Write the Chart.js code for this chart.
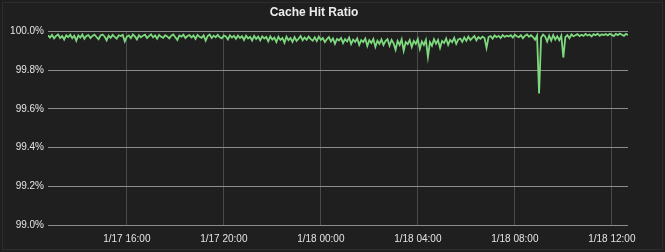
<!DOCTYPE html>
<html>
<head>
<meta charset="utf-8">
<script src="https://cdn.jsdelivr.net/npm/chart.js@4/dist/chart.umd.min.js"></script>
<style>
  html, body { margin: 0; padding: 0; background: #1f1f1f; }
  #wrap { width: 665px; height: 252px; }
</style>
</head>
<body>
<div id="wrap"><canvas id="myChart"></canvas></div>
<script>

// sampling: every 5 minutes, starting 1/17 12:45 (hours counted from 1/17 00:00)
var startHour = 12.75;
var stepMinutes = 5;

// cache hit ratio (%), one row per hour
var hitRatio = [
  99.980, 99.968, 99.982, 99.964, 99.977, 99.984, 99.966, 99.976, 99.958, 99.980, 99.970, 99.983,
  99.965, 99.978, 99.952, 99.979, 99.968, 99.984, 99.962, 99.976, 99.981, 99.966, 99.977, 99.983,
  99.971, 99.960, 99.979, 99.984, 99.974, 99.954, 99.978, 99.967, 99.982, 99.972, 99.963, 99.980,
  99.976, 99.982, 99.948, 99.972, 99.979, 99.965, 99.984, 99.974, 99.958, 99.980, 99.970, 99.978,
  99.983, 99.966, 99.976, 99.985, 99.969, 99.979, 99.962, 99.982, 99.972, 99.967, 99.980, 99.974,
  99.964, 99.978, 99.984, 99.970, 99.956, 99.979, 99.973, 99.983, 99.966, 99.976, 99.981, 99.969,
  99.979, 99.961, 99.982, 99.972, 99.967, 99.980, 99.952, 99.976, 99.984, 99.966, 99.978, 99.970,
  99.982, 99.969, 99.964, 99.979, 99.974, 99.958, 99.980, 99.968, 99.977, 99.962, 99.979, 99.966,
  99.975, 99.956, 99.978, 99.964, 99.972, 99.953, 99.977, 99.961, 99.973, 99.954, 99.975, 99.963,
  99.971, 99.949, 99.974, 99.958, 99.968, 99.945, 99.972, 99.956, 99.966, 99.942, 99.973, 99.954,
  99.966, 99.946, 99.971, 99.951, 99.962, 99.976, 99.954, 99.969, 99.957, 99.973, 99.960, 99.952,
  99.969, 99.950, 99.973, 99.956, 99.966, 99.945, 99.960, 99.971, 99.948, 99.964, 99.936, 99.961,
  99.953, 99.966, 99.940, 99.960, 99.948, 99.968, 99.935, 99.958, 99.946, 99.964, 99.930, 99.955,
  99.945, 99.963, 99.925, 99.955, 99.940, 99.961, 99.920, 99.952, 99.936, 99.959, 99.930, 99.950,
  99.960, 99.926, 99.956, 99.938, 99.905, 99.951, 99.930, 99.959, 99.900, 99.945, 99.934, 99.956,
  99.920, 99.951, 99.936, 99.961, 99.910, 99.948, 99.930, 99.956, 99.868, 99.944, 99.926, 99.959,
  99.936, 99.956, 99.915, 99.951, 99.940, 99.963, 99.930, 99.956, 99.944, 99.966, 99.936, 99.959,
  99.963, 99.946, 99.969, 99.951, 99.973, 99.956, 99.967, 99.976, 99.954, 99.971, 99.962, 99.973,
  99.966, 99.915, 99.971, 99.976, 99.962, 99.979, 99.970, 99.977, 99.966, 99.981, 99.972, 99.978,
  99.974, 99.980, 99.968, 99.983, 99.975, 99.970, 99.981, 99.965, 99.977, 99.984, 99.972, 99.980,
  99.971, 99.957, 99.978, 99.680, 99.968, 99.983, 99.974, 99.948, 99.978, 99.953, 99.981, 99.958,
  99.975, 99.955, 99.978, 99.865, 99.970, 99.981, 99.965, 99.984, 99.975, 99.980, 99.986, 99.976,
  99.983, 99.977, 99.987, 99.979, 99.984, 99.974, 99.986, 99.980, 99.988, 99.977, 99.985, 99.981,
  99.986, 99.979, 99.988, 99.982, 99.976, 99.987, 99.981, 99.989, 99.983, 99.977, 99.987, 99.982
];

// x tick positions (hours from 1/17 00:00) and their labels
var xTicks = [16, 20, 24, 28, 32, 36];
var xTickLabels = ['1/17 16:00', '1/17 20:00', '1/18 00:00', '1/18 04:00', '1/18 08:00', '1/18 12:00'];

var yMin = 99.0;
var yMax = 100.0;
var yStep = 0.2;

var points = hitRatio.map(function(v, i){
  return { x: startHour + i * stepMinutes / 60, y: v };
});

// panel background + thin border
var panelBg = {
  id: 'panelBg',
  beforeDraw: function(chart){
    var c = chart.ctx;
    c.save();
    c.fillStyle = '#1f1f1f';
    c.fillRect(0, 0, chart.width, chart.height);
    c.strokeStyle = '#2d2d2d';
    c.lineWidth = 1;
    c.strokeRect(2.5, 2.5, chart.width - 5, chart.height - 5);
    c.restore();
  }
};

var ctx = document.getElementById('myChart');
var chart = new Chart(ctx, {
  type: 'line',
  data: {
    datasets: [{
      label: 'Cache Hit Ratio',
      data: points,
      borderColor: '#7ed97e',
      borderWidth: 1.8,
      pointRadius: 0,
      tension: 0,
      fill: false
    }]
  },
  options: {
    responsive: true,
    maintainAspectRatio: false,
    animation: false,
    layout: { padding: { left: 0, right: 37, top: 0, bottom: 0 } },
    plugins: {
      legend: { display: false },
      tooltip: { enabled: false },
      title: {
        display: true,
        text: 'Cache Hit Ratio',
        color: '#ececec',
        font: { family: 'Liberation Sans', size: 12, weight: 'bold' },
        padding: { top: 5, bottom: 12 }
      }
    },
    scales: {
      x: {
        type: 'linear',
        min: startHour,
        max: startHour + (hitRatio.length - 1) * stepMinutes / 60,
        afterBuildTicks: function(scale){
          scale.ticks = xTicks.map(function(v){ return { value: v }; });
        },
        afterFit: function(scale){ scale.height = 27; },
        ticks: {
          color: '#e4e4e4',
          font: { family: 'Liberation Sans', size: 10 },
          padding: 8,
          maxRotation: 0,
          autoSkip: false,
          callback: function(v){
            var i = xTicks.indexOf(v);
            return i >= 0 ? xTickLabels[i] : '';
          }
        },
        grid: { color: '#4a4a4a', drawTicks: false },
        border: { display: false }
      },
      y: {
        min: yMin,
        max: yMax,
        afterFit: function(scale){ scale.width = 48; },
        ticks: {
          stepSize: yStep,
          color: '#e4e4e4',
          font: { family: 'Liberation Sans', size: 10 },
          padding: 4,
          callback: function(v){ return v.toFixed(1) + '%'; }
        },
        grid: { color: '#8c8c8c', drawTicks: false },
        border: { display: false }
      }
    }
  },
  plugins: [panelBg]
});

</script>
</body>
</html>
